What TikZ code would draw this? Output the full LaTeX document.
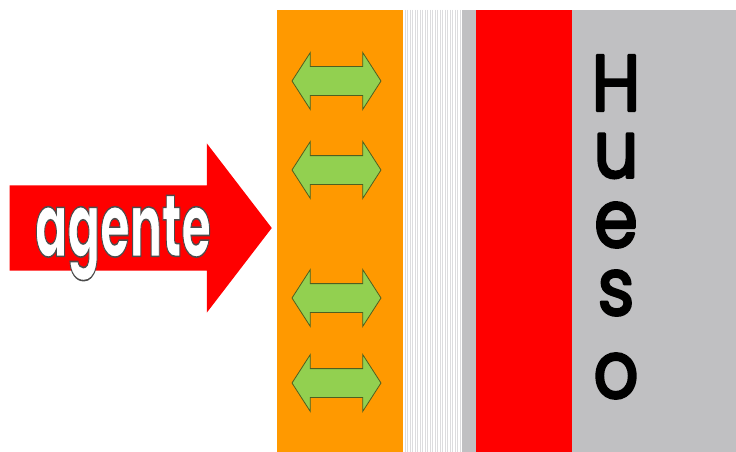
\documentclass[tikz,border=0pt]{standalone}
\usepackage{fontspec}
\setmainfont{Poppins}
\usetikzlibrary{shapes.arrows, positioning}

\definecolor{naranja}{HTML}{FF9900}
\definecolor{rojo}{HTML}{FF0000}
\definecolor{hueso}{HTML}{C0C0C2}
\definecolor{verde}{HTML}{92D050}
\definecolor{verdeoscuro}{HTML}{4F5F20}
\definecolor{raya}{HTML}{DCDCDE}

% texto con borde (relleno y trazo)
\newcommand{\borde}[1]{\special{pdf:literal direct 2 Tr 1.6 w 0.3 0.3 0.3 RG}#1\special{pdf:literal direct 0 Tr}}
\newcommand{\grueso}[1]{\special{pdf:literal direct 2 Tr 2.6 w 0 0 0 RG 1 j}#1\special{pdf:literal direct 0 Tr}}

\begin{document}
\begin{tikzpicture}[x=1pt, y=-1pt,
    flecha/.style={double arrow, draw=verdeoscuro, fill=verde, line width=0.8pt,
        inner xsep=0pt, inner ysep=14pt, minimum height=89pt,
        double arrow head extend=14pt, double arrow tip angle=114.5},
    agente/.style={single arrow, fill=rojo, inner xsep=0pt, inner ysep=42.5pt,
        minimum height=262pt, single arrow head extend=42pt, single arrow tip angle=105},
    letra/.style={font=\fontsize{80}{80}\selectfont, xscale=0.88, inner sep=0pt}]

    \useasboundingbox (0,0) rectangle (736,452);

    % capas
    \fill[naranja] (277,10) rectangle (403,452);
    \fill[white] (403,10) rectangle (462,452);
    \foreach \x in {405,407.5,...,461}
        \draw[raya, line width=0.6pt] (\x,10) -- (\x,452);
    \fill[hueso] (462,10) rectangle (476,452);
    \fill[rojo] (476,10) rectangle (572,452);
    \fill[hueso] (572,10) rectangle (736,452);

    % flechas
    \node[agente, anchor=tip] (A) at (272,228) {};
    \node[xscale=0.545, font=\fontsize{88}{88}\selectfont\bfseries, text=white] (T) at (123,238)
        {\borde{agente}};

    \node[flecha] (F1) at (336.5,81) {};
    \node[flecha] (F2) at (336.5,170) {};
    \node[flecha] (F3) at (336.5,298) {};
    \node[flecha] (F4) at (336.5,383) {};

    % Hueso
    \node[letra] (H) at (616,83) {\grueso{H}};
    \node[letra] (U) at (616,156) {\grueso{u}};
    \node[letra] (E) at (616,225) {\grueso{e}};
    \node[letra] (S) at (616,293) {\grueso{s}};
    \node[letra] (O) at (616,376) {\grueso{o}};
\end{tikzpicture}
\end{document}
